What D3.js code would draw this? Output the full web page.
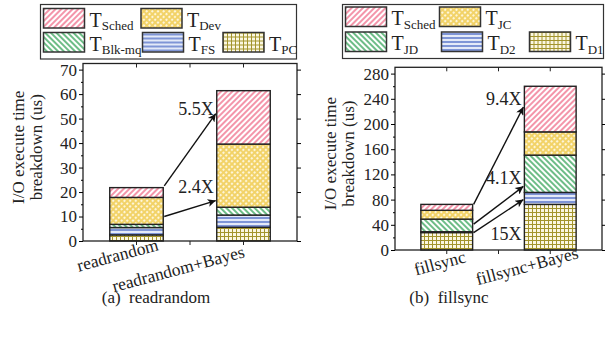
<!DOCTYPE html>
<html>
<head>
<meta charset="utf-8">
<script src="https://cdn.jsdelivr.net/npm/d3@7"></script>
<style>
body{margin:0;background:#fff}
text{font-family:"Liberation Serif",serif}
</style>
</head>
<body>
<script>
// ---- data (us), stacked bottom -> top ----
const readCats=['readrandom','readrandom+Bayes']
const readKeys=['PC','FS','Blk-mq','Dev','Sched']
const readPC=[2.5,5.6]
const readFS=[3.0,5.0]
const readBlk=[1.3,3.2]
const readDev=[11.0,25.8]
const readSched=[4.0,21.8]
const readTicks=[0,10,20,30,40,50,60,70]
const readArrows=[['5.5X',22.5,52,54],['2.4X',10,16.5,22.2]] // label, from, to, label value

const fillCats=['fillsync','fillsync+Bayes']
const fillKeys=['D1','D2','JD','JC','Sched']
const fillD1=[27.7,72.4]
const fillD2=[1.3,19.0]
const fillJD=[20.0,59.2]
const fillJC=[14.0,36.9]
const fillSched=[9.4,72.4]
const fillTicks=[0,40,80,120,160,200,240,280]
const fillArrows=[['9.4X',72.4,227,240],['4.1X',41,101,115],['15X',27.5,80,26.5]]

const pat={'Sched':'pRed','Dev':'pYel','JC':'pYel','Blk-mq':'pGrn','JD':'pGrn','FS':'pBlu','D2':'pBlu','PC':'pOli','D1':'pOli'}
const FONT='"Liberation Serif", serif'

const W=605,H=337
let svg=d3.select('body').append('svg')
	.attr('width',W)
	.attr('height',H)
	.attr('font-family',FONT)

const defs=svg.append('defs')

function lines(id,color,angle,bg){
	const p=defs.append('pattern').attr('id',id)
		.attr('patternUnits','userSpaceOnUse')
		.attr('width',4).attr('height',4)
		.attr('patternTransform',`rotate(${angle})`)
	p.append('rect').attr('width',4).attr('height',4).attr('fill',bg)
	p.append('line').attr('x1',1).attr('x2',1).attr('y1',0).attr('y2',4)
		.attr('stroke',color).attr('stroke-width',1.3)
}
lines('pRed','#ee5d7c',45,'#fff')
lines('pGrn','#1f9a46',-45,'#fff')

// yellow with little white holes
let py=defs.append('pattern').attr('id','pYel')
	.attr('patternUnits','userSpaceOnUse').attr('width',4).attr('height',4)
	.attr('patternTransform','rotate(45)')
py.append('rect').attr('width',4).attr('height',4).attr('fill','#f2d266')
py.append('circle').attr('cx',2).attr('cy',2).attr('r',1.15).attr('fill','#fff8e0')

// blue horizontal lines
let pb=defs.append('pattern').attr('id','pBlu')
	.attr('patternUnits','userSpaceOnUse').attr('width',4).attr('height',4)
pb.append('rect').attr('width',4).attr('height',4).attr('fill','#e4eaf8')
pb.append('line').attr('x1',0).attr('x2',4).attr('y1',2).attr('y2',2)
	.attr('stroke','#3a5cc0').attr('stroke-width',1.2)

// olive grid
let po=defs.append('pattern').attr('id','pOli')
	.attr('patternUnits','userSpaceOnUse').attr('width',4).attr('height',4)
po.append('rect').attr('width',4).attr('height',4).attr('fill','#fbf7e2')
po.append('path').attr('d','M0,0.5H4M0.5,0V4')
	.attr('stroke','#a3942c').attr('stroke-width',1)

defs.append('marker').attr('id','head')
	.attr('viewBox','0 0 10 10').attr('refX',10).attr('refY',5)
	.attr('markerWidth',11).attr('markerHeight',8)
	.attr('orient','auto')
	.attr('markerUnits','userSpaceOnUse')
	.append('path').attr('d','M0,0L10,5L0,10L2.5,5z').attr('fill','#111')

function panel(o){
	const g=svg.append('g')
	const rows=o.cats.map((c,i)=>{
		const r={cat:c}
		o.keys.forEach((k,j)=>r[k]=o.series[j][i])
		return r
	})
	const x=d3.scaleBand().domain(o.cats)
		.range([o.left,o.right]).paddingInner(0.5).paddingOuter(0.25)
	const y=d3.scaleLinear().domain([0,o.max]).range([o.bottom,o.top])
	const stacked=d3.stack().keys(o.keys)(rows)

	// bars
	g.append('g').selectAll('g')
		.data(stacked)
		.join('g')
		.attr('fill',d=>`url(#${pat[d.key]})`)
		.selectAll('rect')
		.data(d=>d)
		.join('rect')
		.attr('x',d=>x(d.data.cat))
		.attr('width',x.bandwidth())
		.attr('y',d=>y(d[1]))
		.attr('height',d=>y(d[0])-y(d[1]))
		.attr('stroke','#222')
		.attr('stroke-width',1.4)

	// frame
	g.append('rect')
		.attr('x',o.left).attr('y',o.top)
		.attr('width',o.right-o.left).attr('height',o.bottom-o.top)
		.attr('fill','none').attr('stroke','#222').attr('stroke-width',1.3)

	let yAxis=d3.axisLeft(y).tickValues(o.ticks).tickSize(4).tickPadding(2)
	g.append('g')
		.attr('transform',`translate(${o.left},0)`)
		.call(yAxis)
		.call(a=>a.select('.domain').remove())
		.attr('font-family',FONT)
		.attr('font-size',17)
		.selectAll('text').attr('fill','#222')
	let minor=o.ticks.slice(0,-1).map((t,i)=>(t+o.ticks[i+1])/2)
	g.append('g')
		.attr('transform',`translate(${o.left},0)`)
		.call(d3.axisLeft(y).tickValues(minor).tickSize(2).tickFormat(''))
		.call(a=>a.select('.domain').remove())
	g.append('g')
		.attr('transform',`translate(${o.right},0)`)
		.call(d3.axisLeft(y).tickValues(o.ticks).tickSize(-4).tickFormat(''))
		.call(a=>a.select('.domain').remove())

	// x ticks: category centres and midpoint
	const cx=o.cats.map(c=>x(c)+x.bandwidth()/2)
	const xt=[cx[0],(cx[0]+cx[1])/2,cx[1]]
	g.append('g').selectAll('line').data(xt).join('line')
		.attr('x1',d=>d).attr('x2',d=>d)
		.attr('y1',o.top).attr('y2',o.top+4)
		.attr('stroke','#222')
	g.append('g').selectAll('line').data(xt).join('line')
		.attr('x1',d=>d).attr('x2',d=>d)
		.attr('y1',o.bottom).attr('y2',o.bottom+4)
		.attr('stroke','#222')

	g.selectAll('.xl').data(o.cats).join('text')
		.attr('class','xl')
		.attr('text-anchor','end')
		.attr('font-size',17.5)
		.attr('fill','#222')
		.attr('transform',(d,i)=>`translate(${cx[i]+o.xlab[i]},${o.bottom+o.xlabY[i]}) rotate(-15)`)
		.text(d=>d)

	// y title
	const ym=(o.top+o.bottom)/2-5
	g.append('text')
		.attr('transform',`translate(${o.left-59},${ym}) rotate(-90)`)
		.attr('text-anchor','middle').attr('font-size',17).attr('fill','#222')
		.text('I/O execute time')
	g.append('text')
		.attr('transform',`translate(${o.left-41},${ym}) rotate(-90)`)
		.attr('text-anchor','middle').attr('font-size',17).attr('fill','#222')
		.text('breakdown (us)')

	// arrows + ratio labels
	const x0=x(o.cats[0])+x.bandwidth()+1, x1=x(o.cats[1])-1
	g.append('g').selectAll('line').data(o.arrows).join('line')
		.attr('x1',x0).attr('y1',d=>y(d[1]))
		.attr('x2',x1).attr('y2',d=>y(d[2]))
		.attr('stroke','#111').attr('stroke-width',1.4)
		.attr('marker-end','url(#head)')
	g.append('g').selectAll('text').data(o.arrows).join('text')
		.attr('x',x1-2).attr('y',d=>y(d[3]))
		.attr('dy','0.35em')
		.attr('text-anchor','end').attr('font-size',18).attr('fill','#222')
		.text(d=>d[0])

	// caption
	g.append('text')
		.attr('x',o.capX).attr('y',303)
		.attr('text-anchor','middle').attr('font-size',17).attr('fill','#222')
		.attr('xml:space','preserve')
		.text(o.caption)

	// legend
	const lg=svg.append('g')
	lg.append('rect')
		.attr('x',o.leg[0]).attr('y',o.leg[1]).attr('width',o.leg[2]).attr('height',o.leg[3])
		.attr('fill','#fff').attr('stroke','#333').attr('stroke-width',1.2)
	const item=lg.selectAll('g').data(o.legItems).join('g')
		.attr('transform',d=>`translate(${d[1]},${d[2]})`)
	item.append('rect')
		.attr('width',41).attr('height',19.5)
		.attr('fill',d=>`url(#${pat[d[0]]})`)
		.attr('stroke','#333').attr('stroke-width',1.5)
	const t=item.append('text')
		.attr('x',46).attr('y',18).attr('font-size',20).attr('fill','#222')
	t.append('tspan').text('T')
	t.append('tspan').attr('font-size',13).attr('dy',3.5).text(d=>d[0])
}

panel({
	cats:readCats,keys:readKeys,
	series:[readPC,readFS,readBlk,readDev,readSched],
	ticks:readTicks,max:72.5,arrows:readArrows,
	left:83,right:297,top:63.5,bottom:241,
	xlab:[23,2],xlabY:[9,16],caption:'(a)  readrandom',capX:156,
	leg:[40.5,4.5,256,54.5],
	legItems:[['Sched',43.5,8.5],['Dev',141,8.5],['Blk-mq',43.5,32.5],['FS',142.5,32.5],['PC',223,32.5]]
})
panel({
	cats:fillCats,keys:fillKeys,
	series:[fillD1,fillD2,fillJD,fillJC,fillSched],
	ticks:fillTicks,max:290,arrows:fillArrows,
	left:395,right:602,top:67.3,bottom:250,
	xlab:[20,29],xlabY:[12,8],caption:'(b)  fillsync',capX:449,
	leg:[342.5,4.5,261,54],
	legItems:[['Sched',345.5,7],['JC',439.5,7],['JD',345.5,32],['D2',441.5,32],['D1',529.5,32]]
})
</script>
</body>
</html>
